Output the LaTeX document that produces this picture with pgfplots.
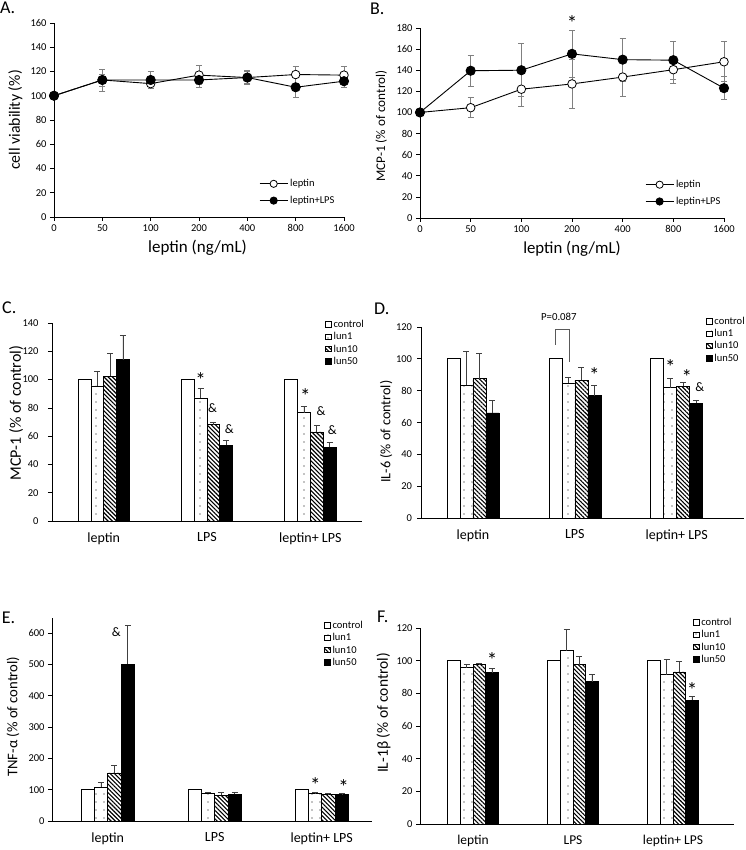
\documentclass[border=0pt]{standalone}
\usepackage{fontspec}
\setmainfont{Carlito}
\usepackage{pgfplots}
\usepackage{pgfplotstable}
\pgfplotsset{compat=1.18}
\usetikzlibrary{patterns,patterns.meta}
\newcommand{\fs}[1]{\fontsize{#1}{#1}\selectfont}

\pgfplotstableread{
x lep lepe lps lpse
0 100 0 100 0
1 113 5 113 9
2 110 4 113 7
3 117 8 113 6
4 115 5 115 6
5 117.5 7 107 8
6 117 7 112 5
}\dataA

\pgfplotstableread{
x lep lepe lps lpse
0 100 0 100 0
1 104.5 9.5 139.5 15
2 122 16 140 25
3 127 23 155.5 22.5
4 133.5 18 150 20.5
5 140.5 13 149.5 18
6 148 19 123 11
}\dataB

\pgfplotstableread{
x c l1 l1e l10 l10e l50 l50e
0 100 95.5 10.5 102.5 16 114 17
1 100 87 7 68 2 53.5 3.5
2 100 76.5 4.5 63 4.5 52 3.5
}\dataC

\pgfplotstableread{
x c l1 l1e l10 l10e l50 l50e
0 100 83.5 21 87.5 15.8 66 7.7
1 100 84.5 4.2 86.6 8 76.8 6.7
2 100 81.8 5.7 82.7 2.5 72 2
}\dataD

\pgfplotstableread{
x c l1 l1e l10 l10e l50 l50e
0 100 109 14 153.5 24.5 500.5 123.5
1 100 89.5 3 82 8.5 85 7.5
2 100 87.5 3 85 2 85 2
}\dataE

\pgfplotstableread{
x c l1 l1e l10 l10e l50 l50e
0 100 95.8 2 97.6 1 92.7 2.5
1 100 106.2 13 97.6 5 87.2 4.7
2 100 91.5 9.2 93.1 6.6 75.9 2.2
}\dataF

\pgfplotsset{
  base/.style={scale only axis, anchor=south west, clip=false,
    axis x line*=bottom, axis y line*=left,
    axis line style={-, black, line width=0.8pt},
    tick align=outside, major tick length=4pt,
    tick style={black, line width=0.7pt},
    /pgf/number format/assume math mode=true,
    y tick label style={font=\fs{10.5}},
    ylabel style={anchor=center},
    xlabel style={anchor=center}},
  linep/.style={base, xmin=0, xmax=6, xtick={0,...,6},
    xticklabels={0,50,100,200,400,800,1600},
    x tick label style={font=\fs{10.5}},
    legend style={draw=none, fill=none, font=\fs{10.5}, anchor=north west,
      inner sep=0pt, row sep=4pt, legend cell align=left},
    legend image code/.code={\draw[##1, mark size=3.6pt, mark repeat=2, mark phase=2]
      plot coordinates {(0pt,0pt) (14pt,0pt) (28pt,0pt)};}},
  barp/.style={base, ybar=0pt, ymin=0, xtick={0,1,2},
    xticklabels={leptin,LPS,{leptin+ LPS}},
    xtick style={draw=none},
    x tick label style={font=\fs{14}, yshift=-4pt},
    legend style={draw=none, fill=none, font=\fs{10.5}, anchor=north west,
      inner sep=0pt, row sep=1.5pt, legend cell align=left,
      nodes={inner sep=1pt},
      /tikz/every odd column/.append style={column sep=1.2pt}},
    legend image code/.code={\draw[##1, draw=black, line width=0.6pt]
      (0pt,-2.5pt) rectangle (5.5pt,3pt);}},
  ctrl/.style={fill=white, draw=black, line width=0.7pt},
  lunA/.style={fill=white, draw=black, line width=0.7pt,
    postaction={pattern={Dots[distance=8pt, radius=0.6pt]}}},
  lunB/.style={fill=white, draw=black, line width=0.7pt,
    postaction={pattern={Lines[angle=-45, distance=3pt, line width=1.1pt]}}},
  lunC/.style={fill=black, draw=black, line width=0.7pt},
  eb/.style={error bars/.cd, y dir=plus, y explicit,
    error bar style={gray!50!black, line width=0.6pt},
    error mark options={rotate=90, gray!50!black, mark size=3pt, line width=0.6pt}},
  ebl/.style={error bars/.cd, y dir=both, y explicit,
    error bar style={gray, line width=0.7pt},
    error mark options={rotate=90, gray, mark size=3pt, line width=0.7pt}},
  openm/.style={black, line width=0.9pt, mark=*, mark size=4.3pt,
    mark options={fill=white, draw=black, line width=0.8pt}},
  fillm/.style={black, line width=0.9pt, mark=*, mark size=4.6pt,
    mark options={fill=black, draw=black}},
}
\tikzset{ast/.style={font=\fs{21}, inner sep=0pt, yshift=-3.5pt},
  amp/.style={font=\fs{13}, inner sep=0pt}}

\begin{document}
\begin{tikzpicture}
\useasboundingbox (0,0) rectangle (745pt,850pt);

% Panel labels
\node[anchor=base west, inner sep=0pt, font=\fs{18}] at (0pt,836.7pt) {A.};
\node[anchor=base west, inner sep=0pt, font=\fs{18}] at (370pt,835pt) {B.};
\node[anchor=base west, inner sep=0pt, font=\fs{18}] at (2pt,536pt) {C.};
\node[anchor=base west, inner sep=0pt, font=\fs{18}] at (374pt,535pt) {D.};
\node[anchor=base west, inner sep=0pt, font=\fs{18}] at (1.7pt,226.7pt) {E.};
\node[anchor=base west, inner sep=0pt, font=\fs{18}] at (377pt,227.3pt) {F.};

% ---------------- A
\begin{axis}[linep, at={(54pt,633pt)}, width=290pt, height=194pt,
  ymin=0, ymax=160, ytick={0,20,...,160},
  xlabel={leptin (ng/mL)}, ylabel={cell viability (\%)},
  xlabel style={font=\fs{17}, at={(axis description cs:0.495,-0.16)}},
  ylabel style={font=\fs{15.8}, at={(axis description cs:-0.133,0.5)}},
  legend style={at={(axis description cs:0.707,0.205)}}]
\addplot[openm, ebl] table[x=x, y=lep, y error=lepe]{\dataA};
\addlegendentry{leptin}
\addplot[fillm, ebl] table[x=x, y=lps, y error=lpse]{\dataA};
\addlegendentry{leptin+LPS}
\end{axis}

% ---------------- B
\begin{axis}[linep, at={(420pt,632pt)}, width=304pt, height=190pt,
  ymin=0, ymax=180, ytick={0,20,...,180},
  xlabel={leptin (ng/mL)}, ylabel={MCP-1 (\% of control)},
  xlabel style={font=\fs{16.8}, at={(axis description cs:0.5,-0.163)}},
  ylabel style={font=\fs{13.2}, at={(axis description cs:-0.128,0.484)}},
  legend style={at={(axis description cs:0.74,0.21)}}]
\addplot[openm, ebl] table[x=x, y=lep, y error=lepe]{\dataB};
\addlegendentry{leptin}
\addplot[fillm, ebl] table[x=x, y=lps, y error=lpse]{\dataB};
\addlegendentry{leptin+LPS}
\node[ast] at (axis cs:3,188) {*};
\end{axis}

% ---------------- C
\begin{axis}[barp, at={(52pt,329pt)}, width=310pt, height=198pt,
  bar width=12.8pt, xmin=-0.5, xmax=2.5, ymax=140, ytick={0,20,...,140},
  y tick label style={xshift=-6pt},
  ylabel={MCP-1 (\% of control)},
  ylabel style={font=\fs{16}, at={(axis description cs:-0.116,0.545)}},
  legend style={at={(axis description cs:0.881,1.02)}}]
\addplot[ctrl] table[x=x, y=c]{\dataC};
\addlegendentry{control}
\addplot[lunA, eb] table[x=x, y=l1, y error=l1e]{\dataC};
\addlegendentry{lun1}
\addplot[lunB, eb] table[x=x, y=l10, y error=l10e]{\dataC};
\addlegendentry{lun10}
\addplot[lunC, eb] table[x=x, y=l50, y error=l50e]{\dataC};
\addlegendentry{lun50}
\node[ast] at (axis cs:0.938,102) {*};
\node[amp] at (axis cs:1.054,79.5) {\&};
\node[amp] at (axis cs:1.217,65) {\&};
\node[ast] at (axis cs:1.951,91) {*};
\node[amp] at (axis cs:2.104,78) {\&};
\node[amp] at (axis cs:2.212,64.5) {\&};
\end{axis}

% ---------------- D
\begin{axis}[barp, at={(421pt,332pt)}, width=323pt, height=191pt,
  bar width=13pt, xmin=-0.51, xmax=2.66, ymax=120, ytick={0,20,...,120},
  y tick label style={xshift=-1.5pt},
  ylabel={IL-6 (\% of control)},
  ylabel style={font=\fs{14.2}, at={(axis description cs:-0.108,0.452)}},
  legend style={at={(axis description cs:0.882,1.058)}}]
\addplot[ctrl] table[x=x, y=c]{\dataD};
\addlegendentry{control}
\addplot[lunA, eb] table[x=x, y=l1, y error=l1e]{\dataD};
\addlegendentry{lun1}
\addplot[lunB, eb] table[x=x, y=l10, y error=l10e]{\dataD};
\addlegendentry{lun10}
\addplot[lunC, eb] table[x=x, y=l50, y error=l50e]{\dataD};
\addlegendentry{lun50}
\draw[gray!70!black, line width=0.8pt] (axis cs:0.805,109) -- (axis cs:0.805,118.6)
  -- (axis cs:0.945,118.6) -- (axis cs:0.945,98);
\node[font=\fs{10.8}, inner sep=0pt] at (axis cs:0.843,126.5) {P=0.087};
\node[ast] at (axis cs:1.191,92) {*};
\node[ast] at (axis cs:1.936,97) {*};
\node[ast] at (axis cs:2.098,91) {*};
\node[amp] at (axis cs:2.225,82.5) {\&};
\end{axis}

% ---------------- E
\begin{axis}[barp, at={(52pt,29pt)}, width=320pt, height=203pt,
  bar width=13.4pt, xmin=-0.52, xmax=2.47, ymax=648, ytick={0,100,...,600},
  ylabel={TNF-α (\% of control)},
  ylabel style={font=\fs{14.7}, at={(axis description cs:-0.122,0.514)}},
  legend style={at={(axis description cs:0.85,0.99)}}]
\addplot[ctrl] table[x=x, y=c]{\dataE};
\addlegendentry{control}
\addplot[lunA, eb] table[x=x, y=l1, y error=l1e]{\dataE};
\addlegendentry{lun1}
\addplot[lunB, eb] table[x=x, y=l10, y error=l10e]{\dataE};
\addlegendentry{lun10}
\addplot[lunC, eb] table[x=x, y=l50, y error=l50e]{\dataE};
\addlegendentry{lun50}
\node[amp] at (axis cs:0.08,603) {\&};
\node[ast] at (axis cs:1.94,125) {*};
\node[ast] at (axis cs:2.205,121) {*};
\end{axis}

% ---------------- F
\begin{axis}[barp, at={(420pt,26pt)}, width=314pt, height=196pt,
  bar width=12.6pt, xmin=-0.53, xmax=2.61, ymax=120, ytick={0,20,...,120},
  x tick label style={font=\fs{13.5}},
  ylabel={IL-1β (\% of control)},
  ylabel style={font=\fs{15.5}, at={(axis description cs:-0.116,0.566)}},
  legend style={at={(axis description cs:0.869,1.056)}}]
\addplot[ctrl] table[x=x, y=c]{\dataF};
\addlegendentry{control}
\addplot[lunA, eb] table[x=x, y=l1, y error=l1e]{\dataF};
\addlegendentry{lun1}
\addplot[lunB, eb] table[x=x, y=l10, y error=l10e]{\dataF};
\addlegendentry{lun10}
\addplot[lunC, eb] table[x=x, y=l50, y error=l50e]{\dataF};
\addlegendentry{lun50}
\node[ast] at (axis cs:0.19,102.7) {*};
\node[ast] at (axis cs:2.19,84.4) {*};
\end{axis}
\end{tikzpicture}
\end{document}
